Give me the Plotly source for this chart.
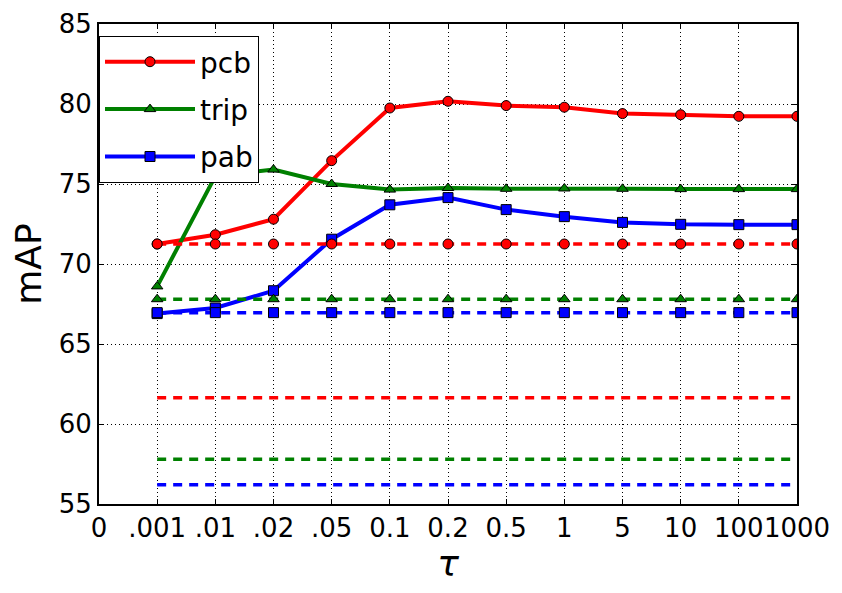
import plotly.graph_objects as go

# ---- data ----
tick_labels = ["0", ".001", ".01", ".02", ".05", "0.1", "0.2", "0.5", "1", "5", "10", "100", "1000"]
taus = tick_labels[1:]
pcb = [71.25, 71.83, 72.8, 76.46, 79.75, 80.17, 79.9, 79.8, 79.4, 79.33, 79.23, 79.23]
trip = [68.6, 75.5, 75.9, 75.0, 74.65, 74.75, 74.7, 74.72, 74.7, 74.68, 74.68, 74.68]
pab = [66.9, 67.25, 68.33, 71.55, 73.7, 74.15, 73.4, 72.96, 72.6, 72.48, 72.46, 72.46]
pcb_base = 71.25
trip_base = 67.8
pab_base = 66.96
pcb_low = 61.64
trip_low = 57.8
pab_low = 56.2
y_ticks = [55, 60, 65, 70, 75, 80, 85]

x = [tick_labels.index(t) for t in taus]

RED, GREEN, BLUE = "#ff0000", "#008000", "#0000ff"
FONT = "DejaVu Sans"

fig = go.Figure()

def solid(name, ys, color, symbol):
    fig.add_trace(go.Scatter(
        x=x, y=ys, name=name, mode="lines+markers", legendgroup=name,
        line=dict(color=color, width=4),
        marker=dict(symbol=symbol, size=10, color=color, line=dict(color="black", width=1)),
    ))

def dashed(val, color, symbol=None):
    fig.add_trace(go.Scatter(
        x=x, y=[val] * len(x), mode="lines+markers" if symbol else "lines",
        showlegend=False, hoverinfo="skip",
        line=dict(color=color, width=3.5, dash="9px,7px"),
        marker=dict(symbol=symbol or "circle", size=10, color=color, line=dict(color="black", width=1)),
    ))

solid("pcb", pcb, RED, "circle")
solid("trip", trip, GREEN, "triangle-up")
solid("pab", pab, BLUE, "square")
dashed(pcb_base, RED, "circle")
dashed(trip_base, GREEN, "triangle-up")
dashed(pab_base, BLUE, "square")
dashed(pcb_low, RED)
dashed(trip_low, GREEN)
dashed(pab_low, BLUE)

axis_common = dict(
    showline=True, linecolor="black", linewidth=2, mirror="ticks",
    ticks="inside", ticklen=5, tickcolor="black", tickwidth=1,
    showgrid=True, gridcolor="black", gridwidth=1, griddash="1px,3px",
    zeroline=False, automargin=False, tickangle=0,
    tickfont=dict(family=FONT, size=26, color="black"),
)

fig.update_xaxes(
    range=[0, len(tick_labels) - 1],
    tickmode="array", tickvals=list(range(len(tick_labels))), ticktext=tick_labels,
    title=dict(text="<i>τ</i>", font=dict(family=FONT, size=36, color="black"), standoff=4),
    **axis_common,
)
fig.update_yaxes(
    range=[55, 85], tickmode="array", tickvals=y_ticks,
    title=dict(text="mAP", font=dict(family=FONT, size=36, color="black"), standoff=12),
    **axis_common,
)

# page body has an 8px margin, so margins are compensated for it
fig.update_layout(
    width=842, height=593,
    margin=dict(l=91, r=53, t=16, b=97),
    paper_bgcolor="white", plot_bgcolor="white",
    font=dict(family=FONT, color="black"),
    showlegend=True,
    legend=dict(
        x=0, y=0.975, xanchor="left", yanchor="top",
        bgcolor="white", bordercolor="black", borderwidth=1,
        font=dict(family=FONT, size=28, color="black"),
        tracegroupgap=8, itemwidth=90,
    ),
)

fig.write_html("out.html")
